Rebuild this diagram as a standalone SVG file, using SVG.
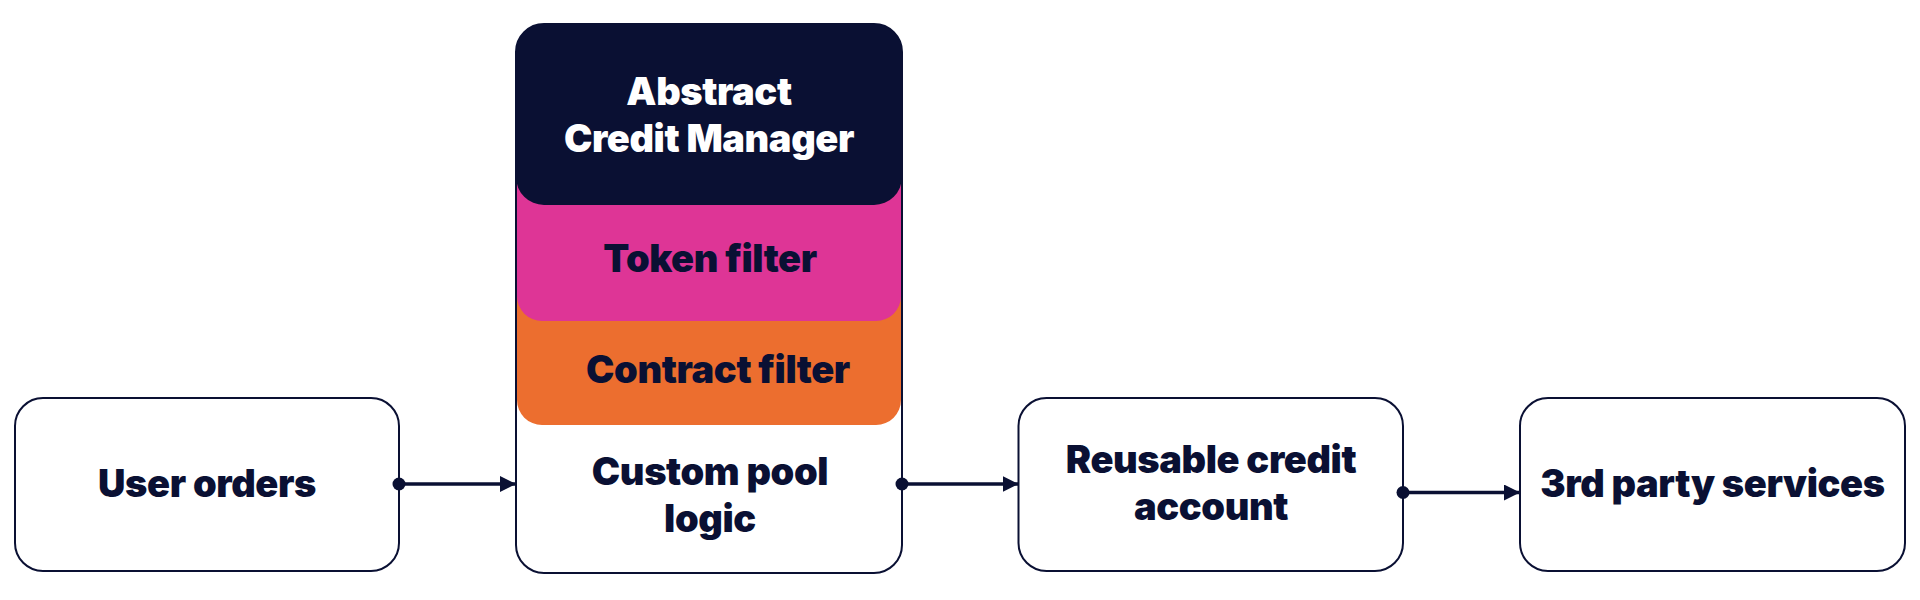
<svg xmlns="http://www.w3.org/2000/svg" width="1920" height="600" viewBox="0 0 1920 600">
  <style>
    .box { fill: #ffffff; stroke: #0a1033; stroke-width: 2; }
    .lbl { font-family: Inter, "Liberation Sans", sans-serif; font-weight: 900; font-size: 38px; fill: #0a1033; text-anchor: middle; letter-spacing: -0.4px; }
    .wht { fill: #ffffff; }
    .conn { stroke: #0a1033; stroke-width: 3.5; fill: none; }
  </style>
  <defs>
    <marker id="dot" markerUnits="userSpaceOnUse" markerWidth="16" markerHeight="16" refX="8" refY="8" orient="auto">
      <circle cx="8" cy="8" r="6.5" fill="#0a1033"/>
    </marker>
    <marker id="arrow" markerUnits="userSpaceOnUse" markerWidth="18" markerHeight="18" refX="16" refY="8" orient="auto">
      <path d="M0,0 L16,8 L0,16 Z" fill="#0a1033"/>
    </marker>
  </defs>

  <g id="node-user-orders">
    <rect class="box" x="15" y="398" width="384" height="173" rx="28"/>
    <text class="lbl" x="207" y="497">User orders</text>
  </g>

  <g id="node-pool">
    <rect class="box" x="516" y="24" width="386" height="549" rx="28"/>
    <rect x="517" y="240" width="384" height="185" rx="25" fill="#ec6e2f"/>
    <rect x="517" y="140" width="384" height="181" rx="25" fill="#de3596"/>
    <rect x="516" y="24" width="386" height="181" rx="28" fill="#0a1033"/>
    <text class="lbl wht" x="709" y="105">Abstract</text>
    <text class="lbl wht" x="709" y="152">Credit Manager</text>
    <text class="lbl" x="710" y="272">Token filter</text>
    <text class="lbl" x="718" y="383">Contract filter</text>
    <text class="lbl" x="710" y="485">Custom pool</text>
    <text class="lbl" x="710" y="532">logic</text>
  </g>

  <g id="node-credit-account">
    <rect class="box" x="1018.5" y="398" width="384.5" height="173" rx="28"/>
    <text class="lbl" x="1211" y="472.5">Reusable credit</text>
    <text class="lbl" x="1211" y="519.5">account</text>
  </g>

  <g id="node-third-party">
    <rect class="box" x="1520" y="398" width="385" height="173" rx="28"/>
    <text class="lbl" x="1712.5" y="497">3rd party services</text>
  </g>

  <g id="connectors">
    <path class="conn" d="M399,484 L516,484" marker-start="url(#dot)" marker-end="url(#arrow)"/>
    <path class="conn" d="M902,484 L1018.5,484" marker-start="url(#dot)" marker-end="url(#arrow)"/>
    <path class="conn" d="M1403,492.5 L1520,492.5" marker-start="url(#dot)" marker-end="url(#arrow)"/>
  </g>
</svg>
